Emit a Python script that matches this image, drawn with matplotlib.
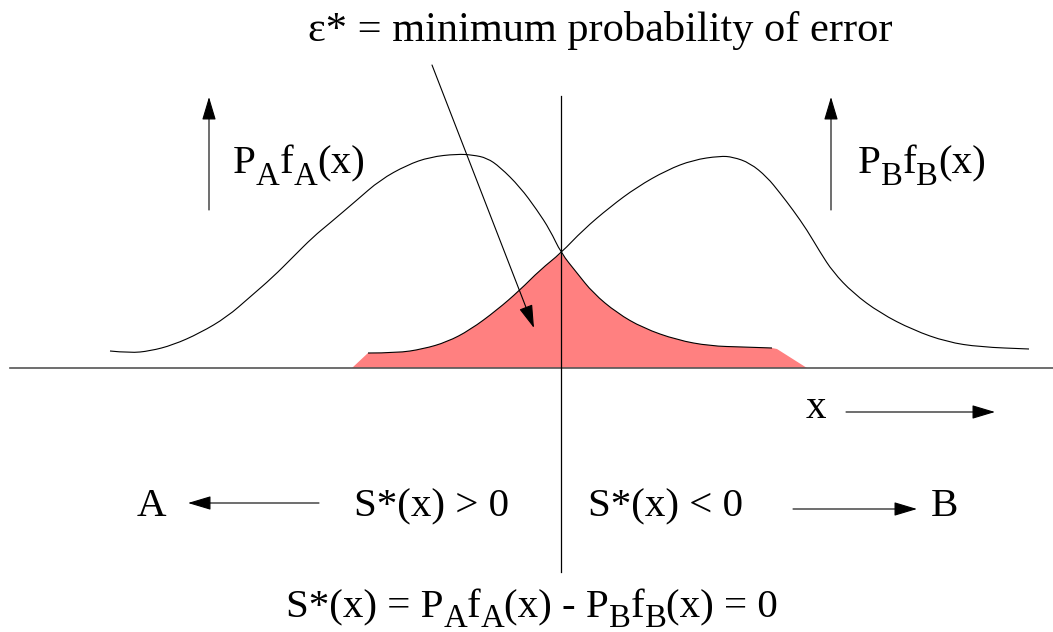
import matplotlib
matplotlib.use("Agg")
import matplotlib.pyplot as plt
from matplotlib.path import Path
from matplotlib.patches import PathPatch

plt.rcParams['font.family'] = ['Liberation Serif', 'DejaVu Serif']

# x position (px) and height above the baseline (px) of the hand-drawn curves
curve_a_x = [110, 130, 150, 173, 200, 227, 250, 273, 293, 313, 330, 357, 380, 407, 430,
             457, 473, 487, 500, 520, 537, 550, 561, 577, 593, 617, 643, 677, 710, 743, 772]
curve_a_y = [17, 15, 17, 23, 35, 51, 71, 91, 111, 131, 145, 168, 188, 203, 211,
             214, 213, 210, 201, 181, 158, 138, 115, 95, 75, 55, 40, 28, 22, 21, 20]

curve_b_x = [368, 397, 423, 447, 470, 497, 520, 540, 561, 583, 610, 637, 667, 693, 720,
             733, 750, 767, 780, 793, 807, 820, 833, 853, 880, 913, 947, 980, 1029]
curve_b_y = [15, 15, 19, 26, 38, 58, 78, 98, 115, 138, 161, 181, 198, 208, 212,
             211, 205, 191, 175, 158, 138, 116, 96, 75, 55, 38, 26, 21, 19]

# corners of the shaded error region where it leaves the curves
err_left_x, err_left_y = [352, 368], [0, 15]
err_right_x, err_right_y = [772, 777, 807], [20, 19, 0]
cross_x = 561

W, H = 1053, 632
base = 368

fig = plt.figure(figsize=(W / 100, H / 100), dpi=100)
ax = fig.add_axes([0, 0, 1, 1])
ax.set_xlim(0, W)
ax.set_ylim(base - H, base)
ax.axis('off')


def spline(xs, ys):
    """Quadratic spline path through the read points (xfig-like)."""
    pts = list(zip(xs, ys))
    verts = [pts[0]]
    codes = [Path.MOVETO]
    for i in range(1, len(pts) - 1):
        mid = ((pts[i][0] + pts[i + 1][0]) / 2, (pts[i][1] + pts[i + 1][1]) / 2)
        verts += [pts[i], mid]
        codes += [Path.CURVE3, Path.CURVE3]
    verts.append(pts[-1])
    codes.append(Path.LINETO)
    return verts, codes


# shaded region: left corner -> curve B up to crossing -> curve A down -> right corner
bl = [(x, y) for x, y in zip(curve_b_x, curve_b_y) if x <= cross_x]
ar = [(x, y) for x, y in zip(curve_a_x, curve_a_y) if x >= cross_x]
v1, c1 = spline([p[0] for p in bl], [p[1] for p in bl])
v2, c2 = spline([p[0] for p in ar], [p[1] for p in ar])
verts = ([(err_left_x[0], err_left_y[0])] + v1 + v2[1:]
         + list(zip(err_right_x[1:], err_right_y[1:])) + [(err_left_x[0], err_left_y[0])])
codes = ([Path.MOVETO] + [Path.LINETO] + c1[1:] + c2[1:]
         + [Path.LINETO] * (len(err_right_x) - 1) + [Path.CLOSEPOLY])
ax.add_patch(PathPatch(Path(verts, codes), facecolor='#ff8080', lw=0, zorder=1))

for xs, ys in ((curve_a_x, curve_a_y), (curve_b_x, curve_b_y)):
    v, c = spline(xs, ys)
    ax.add_patch(PathPatch(Path(v, c), facecolor='none', edgecolor='black', lw=0.8, zorder=3))

# baseline and threshold line
ax.plot([10, W], [0, 0], color='#555555', lw=1.2, zorder=2)
ax.plot([561, 561], [base - 96, base - 572], color='black', lw=0.9, zorder=4)


def arrow(x0, y0, x1, y1):
    ax.annotate('', xy=(x1, y1), xytext=(x0, y0),
                arrowprops=dict(arrowstyle='-|>,head_length=0.8,head_width=0.24',
                                mutation_scale=18, lw=0.8, color='black',
                                shrinkA=0, shrinkB=0), zorder=5)


arrow(209, base - 210, 209, base - 97)
arrow(831, base - 210, 831, base - 97)
arrow(432, base - 65, 534, base - 328)
arrow(846, base - 412, 995, base - 412)
arrow(319, base - 503, 188, base - 503)
arrow(793, base - 509, 917, base - 509)

renderer = fig.canvas.get_renderer()
FS = 29.5
SUB = 0.8
DROP = 12


def rich(x, y, pieces, ha='left', fs=FS, drop=DROP):
    """pieces: list of (text, is_subscript); x,y baseline position in px."""
    arts = []
    total = 0
    for s, sub in pieces:
        t = ax.text(0, 0, s, fontsize=fs * (SUB if sub else 1), va='baseline', ha='left')
        w = t.get_window_extent(renderer).width
        arts.append((t, w, sub))
        total += w
    cx = x - total / 2 if ha == 'center' else x
    for t, w, sub in arts:
        t.set_position((cx, y - (drop if sub else 0)))
        cx += w


ax.text(600, base - 30, 'ε* = minimum probability of error', fontsize=30.5,
        ha='center', va='center')
rich(233, base - 173, [('P', 0), ('A', 1), ('f', 0), ('A', 1), ('(x)', 0)])
rich(858, base - 173, [('P', 0), ('B', 1), ('f', 0), ('B', 1), ('(x)', 0)])
ax.text(816, base - 418, 'x', fontsize=FS, ha='center', va='baseline')
ax.text(151, base - 516, 'A', fontsize=FS, ha='center', va='baseline')
ax.text(944, base - 516, 'B', fontsize=FS, ha='center', va='baseline')
ax.text(432, base - 516, 'S*(x) > 0', fontsize=FS, ha='center', va='baseline')
ax.text(666, base - 516, 'S*(x) < 0', fontsize=FS, ha='center', va='baseline')
rich(532, base - 617, [('S*(x) = P', 0), ('A', 1), ('f', 0), ('A', 1), ('(x) - P', 0),
                       ('B', 1), ('f', 0), ('B', 1), ('(x) = 0', 0)], ha='center', drop=10)

fig.savefig('out.png', dpi=100, facecolor='white')
